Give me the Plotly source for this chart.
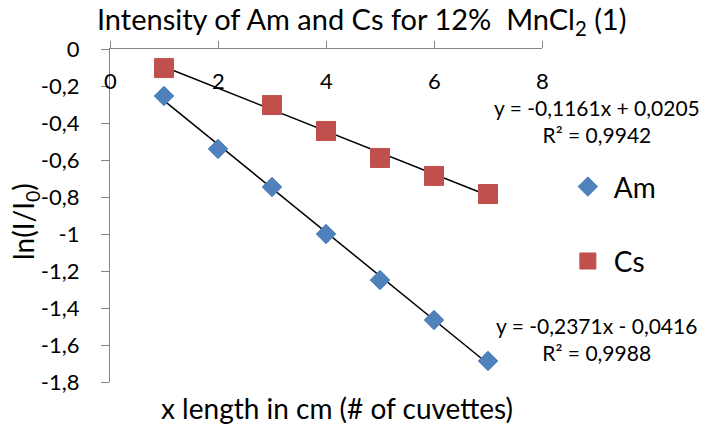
import plotly.graph_objects as go

# Measured attenuation, ln(I/I0), versus number of cuvettes
am_x = [1, 2, 3, 4, 5, 6, 7]
am_y = [-0.254, -0.54, -0.746, -1.0, -1.249, -1.465, -1.686]
cs_x = [1, 3, 4, 5, 6, 7]
cs_y = [-0.103, -0.303, -0.443, -0.589, -0.686, -0.784]

# Linear trendline parameters (slope, intercept, R²)
am_fit = (-0.2371, -0.0416, 0.9988)
cs_fit = (-0.1161, 0.0205, 0.9942)

x_ticks = [0, 2, 4, 6, 8]
x_ticktext = ["0", "2", "4", "6", "8"]
y_ticks = [0, -0.2, -0.4, -0.6, -0.8, -1.0, -1.2, -1.4, -1.6, -1.8]
y_ticktext = ["0", "-0,2", "-0,4", "-0,6", "-0,8", "-1", "-1,2", "-1,4", "-1,6", "-1,8"]

BLUE = "#4F81BD"
RED = "#C0504D"
AXIS = "#868686"
FONT = "Lato"


def fmt(v, d=4):
    return f"{v:.{d}f}".replace(".", ",")


def eq_text(fit):
    m, b, r2 = fit
    sign = "+" if b >= 0 else "-"
    return f"y = {fmt(m)}x {sign} {fmt(abs(b))}<br>R² = {fmt(r2)}"


fig = go.Figure()

# trendlines
for xs, fit in ((am_x, am_fit), (cs_x, cs_fit)):
    x0, x1 = xs[0], xs[-1]
    fig.add_trace(go.Scatter(
        x=[x0, x1], y=[fit[0] * x0 + fit[1], fit[0] * x1 + fit[1]],
        mode="lines", line=dict(color="black", width=1.5),
        showlegend=False, hoverinfo="skip"))

fig.add_trace(go.Scatter(
    x=am_x, y=am_y, mode="markers", name="Am", legendgroup="am",
    marker=dict(symbol="diamond", size=15, color=BLUE,
                line=dict(color=BLUE, width=1))))
fig.add_trace(go.Scatter(
    x=cs_x, y=cs_y, mode="markers", name="Cs", legendgroup="cs",
    marker=dict(symbol="square", size=19, color=RED,
                line=dict(color=RED, width=1))))

annotations = []
# x tick labels sit below the axis line at y = 0
for v, t in zip(x_ticks, x_ticktext):
    annotations.append(dict(x=v, y=1, xref="x", yref="paper", text=t,
                            showarrow=False, xanchor="center", yanchor="middle",
                            yshift=-31,
                            font=dict(family=FONT, size=22, color="black")))

# trendline equations
annotations.append(dict(x=1.127, y=0.785, xref="paper", yref="paper",
                        text=eq_text(cs_fit), showarrow=False, align="center",
                        xanchor="center", yanchor="middle",
                        font=dict(family=FONT, size=21, color="black")))
annotations.append(dict(x=1.127, y=0.13, xref="paper", yref="paper",
                        text=eq_text(am_fit), showarrow=False, align="center",
                        xanchor="center", yanchor="middle",
                        font=dict(family=FONT, size=21, color="black")))

# axis titles
annotations.append(dict(x=0.525, y=0, xref="paper", yref="paper", yshift=-26,
                        text="x length in cm (# of cuvettes)", showarrow=False,
                        xanchor="center", yanchor="middle",
                        font=dict(family=FONT, size=28, color="black")))
annotations.append(dict(x=-0.197, y=0.483, xref="paper", yref="paper",
                        text="ln(I/I<sub>0</sub>)", showarrow=False, textangle=-90,
                        xanchor="center", yanchor="middle",
                        font=dict(family=FONT, size=28, color="black")))

fig.update_layout(
    width=701, height=425,
    margin=dict(l=110, r=159, t=49, b=43),
    paper_bgcolor="white", plot_bgcolor="white",
    title=dict(text="Intensity of Am and Cs for 12%  MnCl<sub>2</sub> (1)",
               x=0.516, xanchor="center", y=0.953, yanchor="middle",
               font=dict(family=FONT, size=29, color="black")),
    font=dict(family=FONT, color="black"),
    showlegend=True,
    legend=dict(x=1.046, y=0.661, xanchor="left", yanchor="top",
                traceorder="grouped", tracegroupgap=35, itemwidth=42,
                font=dict(family=FONT, size=28, color="black"),
                bgcolor="rgba(0,0,0,0)"),
    annotations=annotations,
)

fig.update_xaxes(
    range=[0, 8], side="top", tickvals=x_ticks, showticklabels=False,
    ticks="outside", ticklen=7, tickcolor=AXIS,
    showline=True, linecolor=AXIS, linewidth=1.3,
    showgrid=False, zeroline=False,
)

fig.update_yaxes(
    range=[-1.8, 0], tickvals=y_ticks, ticktext=y_ticktext,
    ticks="outside", ticklen=8, tickcolor=AXIS,
    showline=True, linecolor=AXIS, linewidth=1.3,
    showgrid=False, zeroline=False,
    ticklabelstandoff=17,
    tickfont=dict(family=FONT, size=22, color="black"),
)

fig.write_html("out.html")
